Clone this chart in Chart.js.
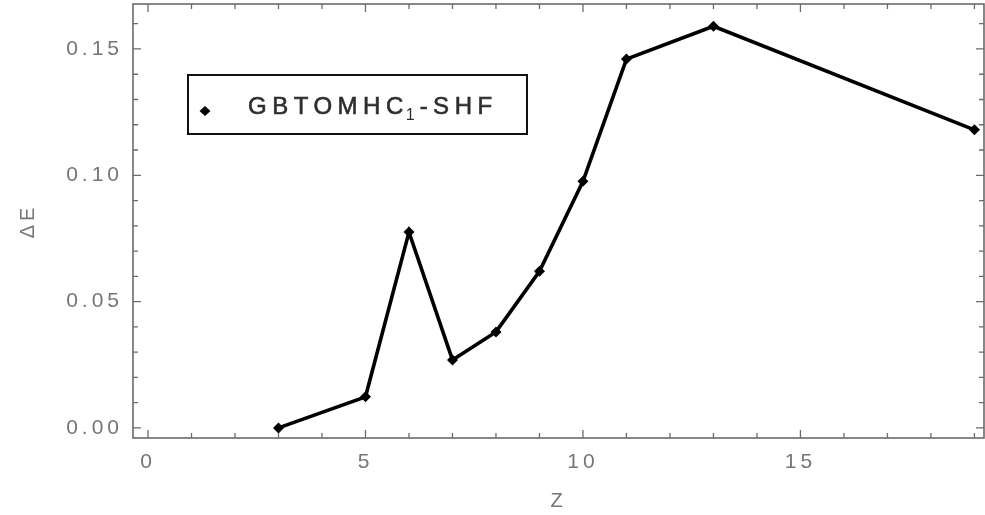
<!DOCTYPE html>
<html><head><meta charset="utf-8">
<script src="https://cdn.jsdelivr.net/npm/chart.js@4.4.1/dist/chart.umd.min.js"></script>
<style>html,body{margin:0;padding:0;background:#fff}</style>
</head><body>
<canvas id="c" width="985" height="515"></canvas>
<script>
// ---- data ----
const zValues = [3, 5, 6, 7, 8, 9, 10, 11, 13, 19];
const deltaE  = [0.000, 0.0123, 0.0775, 0.0269, 0.038, 0.062, 0.0976, 0.146, 0.159, 0.118];
const seriesLabel = 'GBTOMHC₁-SHF';
const xTickValues = [0, 5, 10, 15];
const yTickValues = [0, 0.05, 0.10, 0.15];
const xTitle = 'Z';
const yTitle = 'ΔE';

const axisColor = '#6b6b6b';
const labelColor = '#767676';
const FONT = '"Liberation Sans", Arial, sans-serif';

const points = zValues.map((z, i) => ({x: z, y: deltaE[i]}));

const letterSpacingPlugin = {
  id: 'spacing',
  beforeDraw(chart) { chart.ctx.letterSpacing = '4px'; }
};

const framePlugin = {
  id: 'frame',
  afterDraw(chart) {
    const ctx = chart.ctx, a = chart.chartArea;
    const xs = chart.scales.x, ys = chart.scales.y;
    ctx.save();
    ctx.letterSpacing = '0px';
    ctx.strokeStyle = axisColor;
    ctx.lineWidth = 1.6;
    ctx.strokeRect(a.left, a.top, a.right - a.left, a.bottom - a.top);
    ctx.lineWidth = 1.3;
    ctx.beginPath();
    for (let v = Math.ceil(xs.min); v <= xs.max; v++) {
      const px = xs.getPixelForValue(v);
      const len = (v % 5 === 0) ? 8 : 5;
      ctx.moveTo(px, a.bottom); ctx.lineTo(px, a.bottom - len);
      ctx.moveTo(px, a.top); ctx.lineTo(px, a.top + len);
    }
    for (let k = Math.ceil(ys.min * 100); k <= ys.max * 100; k++) {
      const v = k / 100;
      const py = ys.getPixelForValue(v);
      const len = (k % 5 === 0) ? 8 : 5;
      ctx.moveTo(a.left, py); ctx.lineTo(a.left + len, py);
      ctx.moveTo(a.right, py); ctx.lineTo(a.right - len, py);
    }
    ctx.stroke();
    ctx.restore();
  }
};

const legendPlugin = {
  id: 'boxLegend',
  afterDraw(chart) {
    const ctx = chart.ctx;
    const ds = chart.data.datasets[0];
    ctx.save();
    ctx.fillStyle = '#fff';
    ctx.fillRect(188, 75, 339, 59);
    ctx.strokeStyle = '#111';
    ctx.lineWidth = 2;
    ctx.strokeRect(188, 75, 339, 59);
    // marker
    ctx.fillStyle = '#000';
    ctx.beginPath();
    ctx.moveTo(205, 106); ctx.lineTo(210.5, 111); ctx.lineTo(205, 116); ctx.lineTo(199.5, 111);
    ctx.closePath(); ctx.fill();
    // label with subscript
    const parts = ds.label.split('₁');
    ctx.fillStyle = '#2e2e2e';
    ctx.strokeStyle = '#2e2e2e';
    ctx.lineWidth = 0.6;
    ctx.textBaseline = 'alphabetic';
    const base = 114;
    let x = 248;
    ctx.font = '24px ' + FONT;
    ctx.letterSpacing = '5.5px';
    ctx.fillText(parts[0], x, base);
    ctx.strokeText(parts[0], x, base);
    x += ctx.measureText(parts[0]).width;
    ctx.font = '16px ' + FONT;
    ctx.letterSpacing = '2px';
    ctx.fillText('1', x - 3, base + 6);
    x += ctx.measureText('1').width;
    const rest = '-' + (parts[1] || '').replace(/^-/, '');
    ctx.font = '24px ' + FONT;
    ctx.letterSpacing = '5.5px';
    ctx.fillText(rest, x, base);
    ctx.strokeText(rest, x, base);
    ctx.restore();
  }
};

new Chart(document.getElementById('c'), {
  type: 'line',
  data: {
    datasets: [{
      label: seriesLabel,
      data: points,
      borderColor: '#000',
      borderWidth: 3.6,
      backgroundColor: '#000',
      pointStyle: 'rectRot',
      pointRadius: 5.5,
      pointBorderWidth: 0,
      tension: 0,
      clip: false
    }]
  },
  options: {
    responsive: false,
    animation: false,
    layout: {autoPadding: false, padding: {top: 4, right: 1, left: 0, bottom: 0}},
    plugins: {legend: {display: false}, tooltip: {enabled: false}},
    scales: {
      x: {
        type: 'linear',
        min: -0.345, max: 19.22,
        afterBuildTicks(s) { s.ticks = xTickValues.map(v => ({value: v})); },
        afterFit(s) { s.height = 77; s.paddingLeft = 0; s.paddingRight = 0; },
        grid: {display: false, drawTicks: false},
        border: {display: false},
        ticks: {
          color: labelColor, padding: 12,
          font: {family: FONT, size: 21},
          callback: v => String(v), maxRotation: 0
        },
        title: {
          display: true, text: xTitle, color: labelColor,
          font: {family: FONT, size: 20},
          padding: {top: 0, bottom: 2}
        }
      },
      y: {
        type: 'linear',
        min: -0.004, max: 0.1678,
        afterBuildTicks(s) { s.ticks = yTickValues.map(v => ({value: v})); },
        afterFit(s) { s.width = 133; s.paddingTop = 0; s.paddingBottom = 0; },
        grid: {display: false, drawTicks: false},
        border: {display: false},
        ticks: {
          color: labelColor, padding: 10,
          font: {family: FONT, size: 21},
          callback: v => v.toFixed(2)
        },
        title: {
          display: true, text: yTitle, color: labelColor,
          font: {family: FONT, size: 20},
          padding: {top: 16, bottom: 0}
        }
      }
    }
  },
  plugins: [letterSpacingPlugin, framePlugin, legendPlugin]
});
</script>
</body></html>
